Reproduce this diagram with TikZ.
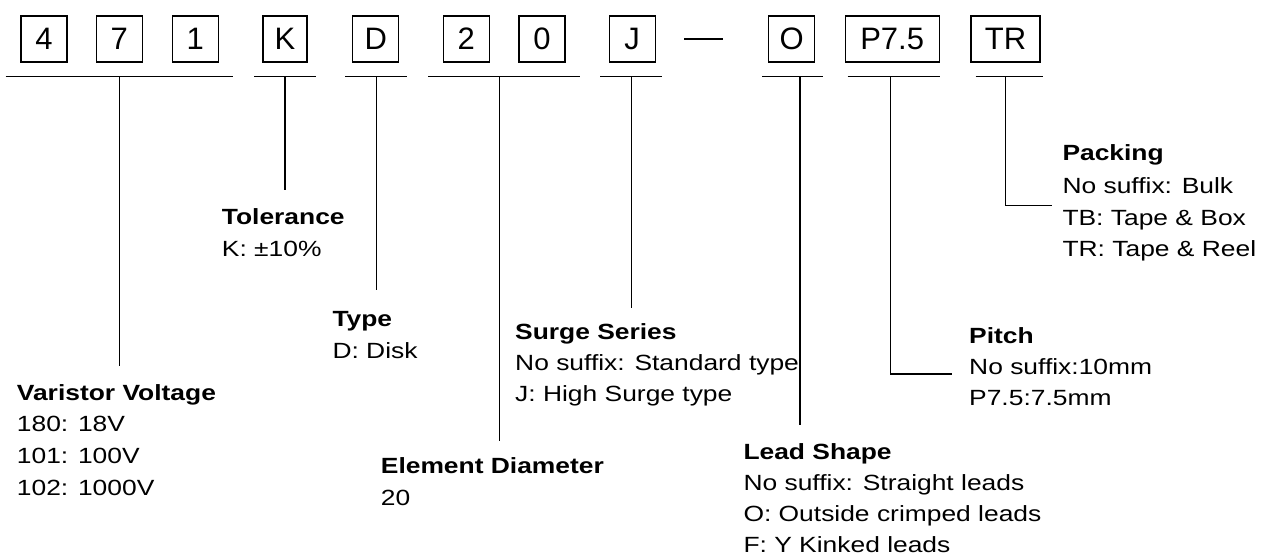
\documentclass[tikz,border=0pt]{standalone}
\usepackage{fontspec}
\setmainfont[FakeStretch=1.2]{Liberation Sans}
\newfontfamily\boxfont{Liberation Sans}
\begin{document}
\begin{tikzpicture}[x=1pt,y=-1pt,
  ln/.style={line width=1.3pt},
  cbox/.style={draw, line width=1.3pt, inner sep=0pt, minimum height=46pt, minimum width=46pt, font=\boxfont\fontsize{31}{36}\selectfont},
  ttl/.style={anchor=base west, inner sep=0pt, font=\bfseries\fontsize{22}{26}\selectfont},
  txt/.style={anchor=base west, inner sep=0pt, font=\fontsize{22}{26}\selectfont}]
\useasboundingbox (0,0) rectangle (1270,558);

% code boxes
\node[cbox] (b4) at (44,39) {4};
\node[cbox] (b7) at (119.3,39) {7};
\node[cbox] (b1) at (195.3,39) {1};
\node[cbox, minimum width=44pt] (bK) at (285,39) {K};
\node[cbox] (bD) at (375.7,39) {D};
\node[cbox] (b2) at (466.3,39) {2};
\node[cbox] (b0) at (542,39) {0};
\node[cbox] (bJ) at (632.2,39) {J};
\node[cbox] (bO) at (791.7,39) {O};
\node[cbox, minimum width=94pt] (bP) at (892.2,39) {P7.5};
\node[cbox, minimum width=69pt] (bT) at (1005.5,39) {TR};
\coordinate (d1) at (684.3,39);
\coordinate (d2) at (723.3,39);
\draw[ln] (d1) -- (d2);

% underlines
\draw[ln] (5.7,76.7) -- (233,76.7);
\draw[ln] (254,76.7) -- (315.7,76.7);
\draw[ln] (345,76.7) -- (406.7,76.7);
\draw[ln] (428.3,76.7) -- (580,76.7);
\draw[ln] (600,76.7) -- (662.3,76.7);
\draw[ln] (762.3,76.7) -- (823.3,76.7);
\draw[ln] (847.7,76.7) -- (940,76.7);
\draw[ln] (975.7,76.7) -- (1043.3,76.7);

% tap points and leader ends
\coordinate (t1) at (119.3,76.7);  \coordinate (e1) at (119.3,365.7);
\coordinate (t2) at (285,76.7);    \coordinate (e2) at (285,190);
\coordinate (t3) at (376.7,76.7);  \coordinate (e3) at (376.7,290);
\coordinate (t4) at (499.3,76.7);  \coordinate (e4) at (499.3,441);
\coordinate (t5) at (631.7,76.7);  \coordinate (e5) at (631.7,308.3);
\coordinate (t6) at (800,76.7);    \coordinate (e6) at (800,425);
\coordinate (t7) at (890.7,76.7);  \coordinate (e7) at (951.7,374);
\coordinate (t8) at (1005.7,76.7); \coordinate (e8) at (1051.7,205.7);
\draw[ln] (t1) -- (e1);
\draw[ln] (t2) -- (e2);
\draw[ln] (t3) -- (e3);
\draw[ln] (t4) -- (e4);
\draw[ln] (t5) -- (e5);
\draw[ln] (t6) -- (e6);
\draw[ln] (t7) |- (e7);
\draw[ln] (t8) |- (e8);

% labels
\node[ttl] (vt) at (16.7,400) {Varistor Voltage};
\node[txt] (v1) at (16.7,431.7) {180: 18V};
\node[txt] (v2) at (16.7,463.5) {101: 100V};
\node[txt] (v3) at (16.7,495) {102: 1000V};

\node[ttl] (kt) at (221.7,224) {Tolerance};
\node[txt] (k1) at (221.7,256.3) {K: ±10\%};

\node[ttl] (dt) at (332.3,326) {Type};
\node[txt] (d1t) at (332.3,358) {D: Disk};

\node[ttl] (et) at (380.7,473.3) {Element Diameter};
\node[txt] (e1t) at (380.7,505) {20};

\node[ttl] (st) at (515,339.3) {Surge Series};
\node[txt] (s1) at (515,370.7) {No suffix: Standard type};
\node[txt] (s2) at (515,401.7) {J: High Surge type};

\node[ttl] (lt) at (743.3,459.3) {Lead Shape};
\node[txt] (l1) at (743.3,490.5) {No suffix: Straight leads};
\node[txt] (l2) at (743.3,521.5) {O: Outside crimped leads};
\node[txt] (l3) at (743.3,552) {F: Y Kinked leads};

\node[ttl] (pt) at (969,343.3) {Pitch};
\node[txt] (p1) at (969,374) {No suffix:10mm};
\node[txt] (p2) at (969,405) {P7.5:7.5mm};

\node[ttl] (gt) at (1062.3,160) {Packing};
\node[txt] (g1) at (1062.3,193.3) {No suffix: Bulk};
\node[txt] (g2) at (1062.3,225.5) {TB: Tape \& Box};
\node[txt] (g3) at (1062.3,256.7) {TR: Tape \& Reel};
\end{tikzpicture}
\end{document}
